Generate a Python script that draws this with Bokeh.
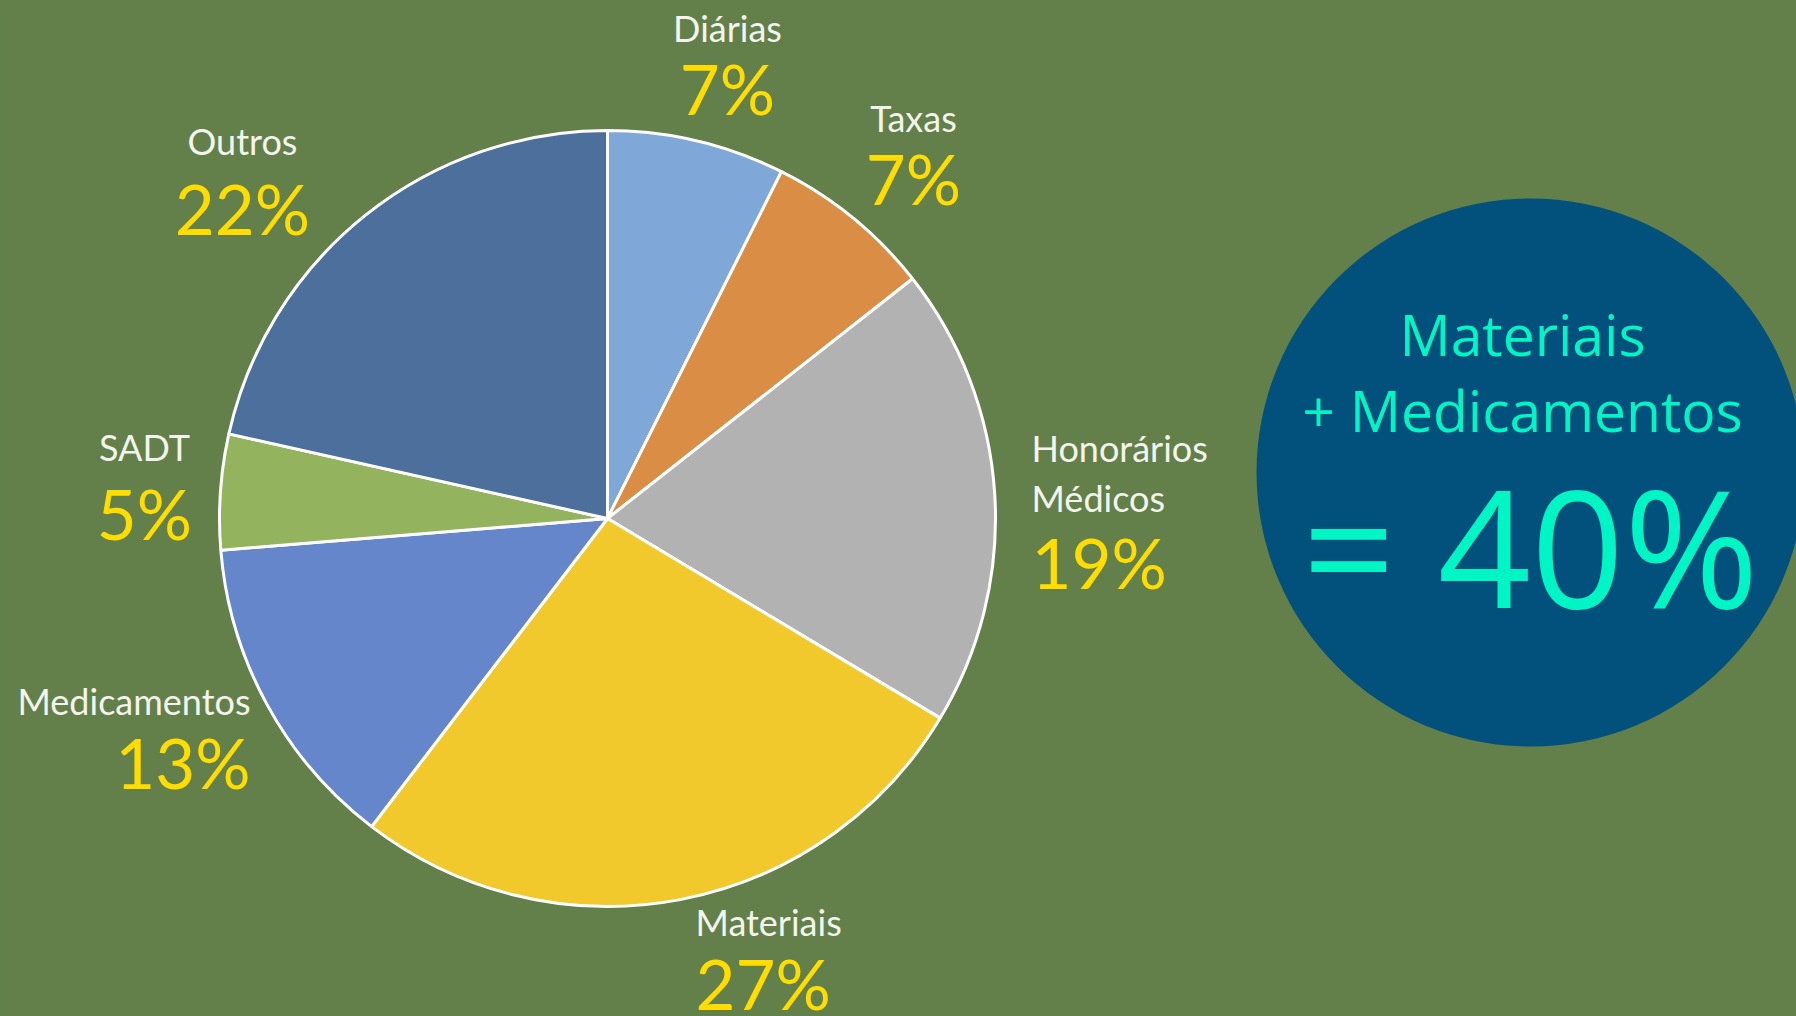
import math
from bokeh.plotting import figure
from bokeh.models import Range1d, ColumnDataSource
from bokeh.core.properties import value
from bokeh.embed import file_html
from bokeh.resources import INLINE

# ---- data ----
categories = ["Diárias", "Taxas", "Honorários Médicos", "Materiais", "Medicamentos", "SADT", "Outros"]
shares = [7.4, 7.0, 19.2, 26.8, 13.3, 4.8, 21.5]
pct_labels = ["7%", "7%", "19%", "27%", "13%", "5%", "22%"]
colors = ["#7FA8D8", "#D98D45", "#B2B2B2", "#F1C92D", "#6686CB", "#93B35F", "#4C6F9B"]
summary_lines = ["Materiais", "+ Medicamentos"]
summary_value = "= 40%"

BG = "#63804A"
W, H = 1796, 1016
DY = 16  # vertical offset of layout coordinates

p = figure(width=W, height=H, output_backend="svg", toolbar_location=None,
           x_range=Range1d(0, W), y_range=Range1d(0, H), min_border=0)
p.axis.visible = False
p.grid.visible = False
p.outline_line_color = None
p.background_fill_color = BG
p.border_fill_color = BG

# ---- pie ----
total = sum(shares)
cum = [0.0]
for s in shares:
    cum.append(cum[-1] + s)
start = [math.pi / 2 - 2 * math.pi * cum[i + 1] / total for i in range(len(shares))]
end = [math.pi / 2 - 2 * math.pi * cum[i] / total for i in range(len(shares))]
pie_cx, pie_cy, pie_r = 607, 482 + DY, 388
src = ColumnDataSource(dict(cat=categories, start=start, end=end, color=colors,
                            x=[pie_cx] * len(shares), y=[pie_cy] * len(shares)))
p.wedge(x="x", y="y", radius=pie_r, start_angle="start", end_angle="end",
        fill_color="color", line_color="white", line_width=3, source=src)

# ---- labels (layout) ----
# name lines, anchor x, name ys, pct y, align
label_layout = [
    (["Diárias"], 727, [973], 912, "center"),
    (["Taxas"], 913, [883], 822, "center"),
    (["Honorários", "Médicos"], 1031, [553, 503], 438, "left"),
    (["Materiais"], 695, [79], 17, "left"),
    (["Medicamentos"], 250, [300], 238, "right"),
    (["SADT"], 144, [554], 487, "center"),
    (["Outros"], 242, [860], 792, "center"),
]
FONT = "Lato"
for i, (names, lx, nys, py, al) in enumerate(label_layout):
    for nm, ny in zip(names, nys):
        p.text(x=[lx], y=[ny + DY], text=[nm], text_align=al, text_baseline="middle",
               text_font=value(FONT), text_font_size="36px", text_color="#F4F4EE")
    p.text(x=[lx], y=[py + DY], text=[pct_labels[i]], text_align=al, text_baseline="middle",
           text_font=value(FONT), text_font_size="69px", text_color="#FFDD00")

# ---- summary bubble ----
p.circle(x=[1530], y=[528 + DY], radius=274, fill_color="#02507C", line_color=None)
p.text(x=[1522, 1522], y=[667 + DY, 591 + DY], text=summary_lines, text_align="center",
       text_baseline="middle", text_font=value("Open Sans"), text_font_size="57px",
       text_color="#00F5C4")
p.text(x=[1530], y=[456 + DY], text=[summary_value], text_align="center",
       text_baseline="middle", text_font=value("Open Sans"), text_font_size="163px",
       text_color="#00F5C4")

html = file_html(p, INLINE)
style = ('<style>html {background:%s; overflow:hidden;} '
         'body {background:%s; margin:0;}</style>') % (BG, BG)
html = html.replace("</head>", style + "</head>", 1)
open("out.html", "w").write(html)
